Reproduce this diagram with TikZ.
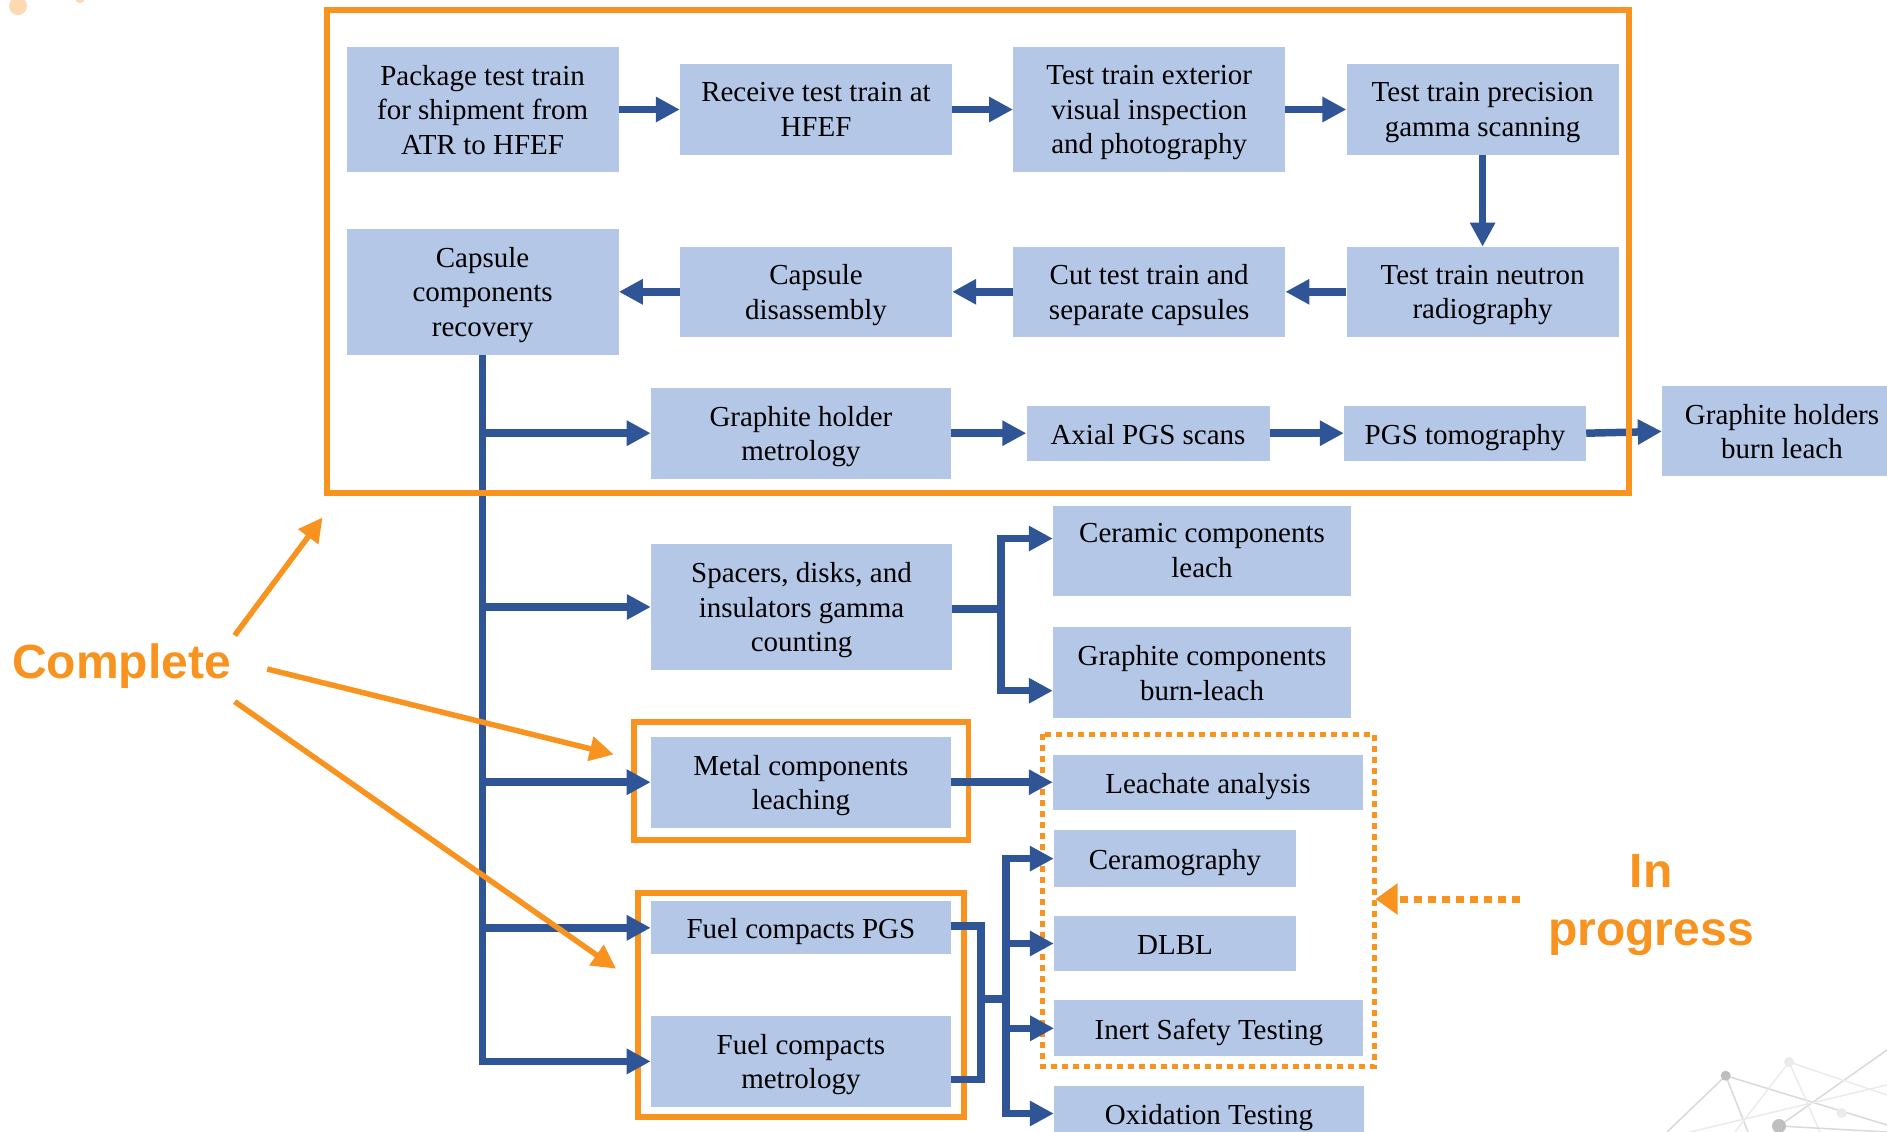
\documentclass[tikz,border=0pt]{standalone}
\usepackage{fontspec}
\setmainfont{Liberation Serif}
\newfontfamily\labelsans{Liberation Sans}
\usetikzlibrary{arrows.meta,calc}
\definecolor{boxblue}{HTML}{B4C7E7}
\definecolor{lineblue}{HTML}{2F5597}
\definecolor{orng}{HTML}{F7931E}
\tikzset{
  bx/.style={fill=boxblue, draw=none, inner sep=0pt, align=center,
    font=\fontsize{29}{34.5}\selectfont,
    execute at begin node={\rule{0pt}{30pt}},
    execute at end node={\rule[-8pt]{0pt}{8pt}}},
  ml/.style={text depth=0pt},
  bline/.style={draw=lineblue, line width=7.5pt},
  barrow/.style={bline, -{Triangle[length=24pt,width=24pt]}},
  obox/.style={draw=orng, line width=5.5pt},
  oarrow/.style={draw=orng, line width=5.5pt, -{Triangle[length=24pt,width=24pt]}},
  lbl/.style={text=orng, font=\labelsans\bfseries\fontsize{48}{58}\selectfont, align=center},
}
\begin{document}
\begin{tikzpicture}[x=1pt,y=-1pt]
\useasboundingbox (0,0) rectangle (1887,1132);
% decorations
\fill[orng!35] (18,6) circle (9);
\fill[orng!35] (80,-2) circle (5);
\begin{scope}[draw=black!15, line width=1.5pt]
\draw (1725.7,1075.7) -- (1667,1132);
\draw (1725.7,1075.7) -- (1748,1132);
\draw (1725.7,1075.7) -- (1887,1125);
\draw (1779,1126) -- (1887,1050);
\draw[black!8] (1789,1062) -- (1735,1132);
\draw[black!8] (1789,1062) -- (1820,1132);
\draw[black!8] (1789,1062) -- (1887,1095);
\draw[black!8] (1690,1132) -- (1887,1085);
\draw (1779,1126) -- (1887,1132);
\end{scope}
\fill[black!25] (1725.7,1075.7) circle (5);
\fill[black!8] (1789,1062) circle (5);
\fill[black!25] (1779,1126) circle (7);
\fill[black!8] (1841.7,1113) circle (5);

% row 1
\node[bx, ml, minimum width=272pt, minimum height=125pt] (pkg) at (482.6,109.5) {Package test train\\for shipment from\\ATR to HFEF};
\node[bx, ml, minimum width=272pt, minimum height=91pt] (rcv) at (816,109.5) {Receive test train at\\HFEF};
\node[bx, ml, minimum width=272pt, minimum height=125pt] (ext) at (1149.2,109.5) {Test train exterior\\visual inspection\\and photography};
\node[bx, ml, minimum width=272pt, minimum height=91pt] (prec) at (1482.6,109.5) {Test train precision\\gamma scanning};
% row 2
\node[bx, ml, minimum width=272pt, minimum height=126pt] (rec) at (482.6,291.8) {Capsule\\components\\recovery};
\node[bx, ml, minimum width=272pt, minimum height=90pt] (dis) at (816,291.8) {Capsule\\disassembly};
\node[bx, ml, minimum width=272pt, minimum height=90pt] (cut) at (1149.2,291.8) {Cut test train and\\separate capsules};
\node[bx, ml, minimum width=272pt, minimum height=90pt] (neut) at (1482.6,291.8) {Test train neutron\\radiography};
% row 3
\node[bx, ml, minimum width=300pt, minimum height=91pt] (ghm) at (800.9,433.2) {Graphite holder\\metrology};
\node[bx, minimum width=243pt, minimum height=55pt] (axl) at (1148,433.2) {Axial PGS scans};
\node[bx, minimum width=242pt, minimum height=55pt] (tomo) at (1465,433.2) {PGS tomography};
\node[bx, ml, minimum width=240pt, minimum height=90pt] (burn) at (1782,431.4) {Graphite holders\\burn leach};
% lower
\node[bx, ml, minimum width=301pt, minimum height=126pt] (spc) at (801.5,607) {Spacers, disks, and\\insulators gamma\\counting};
\node[bx, ml, minimum width=298pt, minimum height=90pt] (ccl) at (1202,550.5) {Ceramic components\\leach};
\node[bx, ml, minimum width=298pt, minimum height=91pt] (gcb) at (1202,672.7) {Graphite components\\burn-leach};
\node[bx, ml, minimum width=300pt, minimum height=91pt] (met) at (800.9,782.2) {Metal components\\leaching};
\node[bx, minimum width=310pt, minimum height=55pt] (lea) at (1208,782.2) {Leachate analysis};
\node[bx, minimum width=242pt, minimum height=57pt] (cer) at (1175,858.6) {Ceramography};
\node[bx, minimum width=242pt, minimum height=55pt] (dlbl) at (1175,943.5) {DLBL};
\node[bx, minimum width=309pt, minimum height=56pt] (ist) at (1208.8,1028.3) {Inert Safety Testing};
\node[bx, minimum width=310pt, minimum height=56pt] (oxi) at (1209,1113.5) {Oxidation Testing};
\node[bx, minimum width=300pt, minimum height=53pt] (fpgs) at (800.9,927.8) {Fuel compacts PGS};
\node[bx, ml, minimum width=300pt, minimum height=91pt] (fmet) at (800.9,1061.4) {Fuel compacts\\metrology};

% small orange boxes
\draw[obox] (634.2,722) rectangle (968.7,840);
\draw[obox] (637.8,893) rectangle (964,1116.8);
\draw[draw=orng, line width=5pt, dash pattern=on 6pt off 5pt] (1042,734) rectangle (1374.3,1066.2);

% blue connectors
\draw[barrow] (pkg.east) -- (rcv.west);
\draw[barrow] (rcv.east) -- (ext.west);
\draw[barrow] (ext.east) -- (prec.west);
\draw[barrow] (prec.south) -- (neut.north);
\draw[barrow] (neut.west) -- (cut.east);
\draw[barrow] (cut.west) -- (dis.east);
\draw[barrow] (dis.west) -- (rec.east);
\draw[barrow] (ghm.east) -- (axl.west);
\draw[barrow] (axl.east) -- (tomo.west);
\draw[barrow] (tomo.east) -- (burn.west);
% trunk
\draw[barrow] (rec.south) |- (fmet.west);
\draw[barrow] (rec.south |- ghm.west) -- (ghm.west);
\draw[barrow] (rec.south |- spc.west) -- (spc.west);
\draw[barrow] (rec.south |- met.west) -- (met.west);
\draw[barrow] (rec.south |- fpgs.west) -- (fpgs.west);
% spacers bracket
\coordinate (sj) at (1001,609);
\draw[bline] ([yshift=-2pt]spc.east) -- (sj);
\draw[barrow] (sj) |- ([yshift=12pt]ccl.west);
\draw[barrow] (sj) |- ([yshift=-18pt]gcb.west);
% metal
\draw[barrow] (met.east) -- (lea.west);
% fuel bracket
\coordinate (fj) at (980.8,998.8);
\coordinate (fk) at (1006,998.8);
\draw[bline] ([yshift=2pt]fpgs.east) -| (fj) |- ([yshift=-18pt]fmet.east);
\draw[bline] (fj) -- (fk);
\draw[barrow] (fk) |- (cer.west);
\draw[barrow] (fk) |- (dlbl.west);
\draw[barrow] (fk) |- (ist.west);
\draw[barrow] (fk) |- (oxi.west);

% big orange box
\draw[obox] (327,10) rectangle (1629,493);

% labels
\node[lbl] (cmp) at (121.5,665.6) {Complete};
\node[lbl] (inp) at (1651,905) {In\\progress};
\coordinate (a1s) at (234.7,635.4);
\coordinate (a1e) at (322.5,517.5);
\coordinate (a2s) at (267.2,669);
\coordinate (a2e) at (613.7,754.5);
\coordinate (a3s) at (234.7,701.6);
\coordinate (a3e) at (616.1,968.7);
\draw[oarrow] (a1s) -- (a1e);
\draw[oarrow] (a2s) -- (a2e);
\draw[oarrow] (a3s) -- (a3e);
\coordinate (ips) at (1520,899);
\coordinate (ipe) at (1375.5,899);
\draw[draw=orng, line width=7pt, dash pattern=on 8pt off 6pt, -{Triangle[length=22pt,width=30pt]}] (ips) -- (ipe);
\end{tikzpicture}
\end{document}
